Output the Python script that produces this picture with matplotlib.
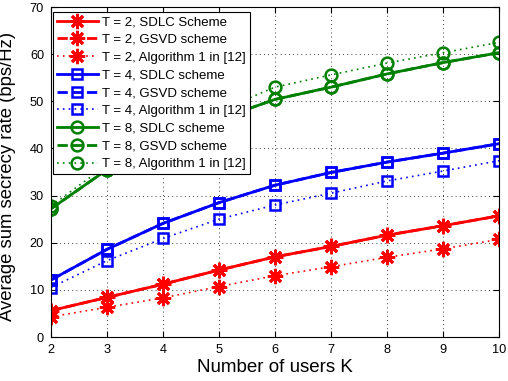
import matplotlib
matplotlib.use("Agg")
import matplotlib.pyplot as plt
import numpy as np

plt.rcParams['font.family'] = ['Liberation Sans', 'DejaVu Sans']

users_K = [2, 3, 4, 5, 6, 7, 8, 9, 10]

t2_sdlc = [5.6, 8.4, 11.2, 14.2, 17.0, 19.2, 21.6, 23.6, 25.7]
t2_gsvd = [5.6, 8.4, 11.2, 14.2, 17.0, 19.2, 21.6, 23.6, 25.7]
t2_alg1 = [4.3, 6.3, 8.3, 10.7, 13.0, 14.9, 16.9, 18.7, 20.7]

t4_sdlc = [12.1, 18.6, 24.1, 28.5, 32.2, 34.9, 37.1, 39.0, 41.0]
t4_gsvd = [12.1, 18.6, 24.1, 28.5, 32.2, 34.9, 37.1, 39.0, 41.0]
t4_alg1 = [10.5, 16.2, 20.9, 25.0, 28.0, 30.5, 33.1, 35.2, 37.4]

t8_sdlc = [27.2, 35.5, 41.3, 46.2, 50.4, 53.0, 55.8, 58.2, 60.3]
t8_gsvd = [27.2, 35.5, 41.3, 46.2, 50.4, 53.0, 55.8, 58.2, 60.3]
t8_alg1 = [27.8, 36.5, 42.5, 48.0, 53.0, 55.6, 58.1, 60.3, 62.5]

fig = plt.figure(figsize=(5.08, 3.81), dpi=100)
ax = fig.add_axes([51/508, 1 - 337/381, 448/508, 330/381])

red, blue, green = '#ff0000', '#0000ff', '#008000'
lw = 2.0
dot = (0, (1, 2.5))
asterisk = (8, 2, 0)

ax.plot(users_K, t2_sdlc, '-', color=red, lw=lw, marker=asterisk, ms=11, mew=2,
        label='T = 2, SDLC Scheme')
ax.plot(users_K, t2_gsvd, '--', color=red, lw=lw, marker=asterisk, ms=11, mew=2,
        label='T = 2, GSVD scheme')
ax.plot(users_K, t2_alg1, linestyle=dot, color=red, lw=1.2, marker=asterisk,
        ms=11, mew=2, label='T = 2, Algorithm 1 in [12]')

ax.plot(users_K, t4_sdlc, '-', color=blue, lw=lw, marker='s', ms=7, mew=1.8,
        mfc='none', label='T = 4, SDLC scheme')
ax.plot(users_K, t4_gsvd, '--', color=blue, lw=lw, marker='s', ms=7, mew=1.8,
        mfc='none', label='T = 4, GSVD scheme')
ax.plot(users_K, t4_alg1, linestyle=dot, color=blue, lw=1.2, marker='s', ms=7,
        mew=1.8, mfc='none', label='T = 4, Algorithm 1 in [12]')

ax.plot(users_K, t8_sdlc, '-', color=green, lw=lw, marker='o', ms=8.5, mew=1.8,
        mfc='none', label='T = 8, SDLC scheme')
ax.plot(users_K, t8_gsvd, '--', color=green, lw=lw, marker='o', ms=8.5, mew=1.8,
        mfc='none', label='T = 8, GSVD scheme')
ax.plot(users_K, t8_alg1, linestyle=dot, color=green, lw=1.2, marker='o',
        ms=8.5, mew=1.8, mfc='none', label='T = 8, Algorithm 1 in [12]')

ax.set_xlim(2, 10)
ax.set_ylim(0, 70)
ax.set_xticks(users_K)
ax.set_yticks(np.arange(0, 71, 10))
ax.grid(True, linestyle=(0, (1, 4)), color='black', lw=0.6)
ax.tick_params(direction='in', labelsize=9.2, top=True, right=True, length=4,
               pad=5)
for s in ax.spines.values():
    s.set_linewidth(0.8)

ax.set_xlabel('Number of users K', fontsize=13.5, labelpad=2)
ax.set_ylabel('Average sum secrecy rate (bps/Hz)', fontsize=13.3)
ax.yaxis.set_label_coords(-0.079, 0.488)

leg = ax.legend(loc='upper left', bbox_to_anchor=(2/448, 1 - 5/330),
                fontsize=9.5, frameon=True, fancybox=False, numpoints=1,
                edgecolor='black', framealpha=1, borderaxespad=0,
                handlelength=3.1, labelspacing=0.42, borderpad=0.3,
                handletextpad=0.35)
leg.get_frame().set_linewidth(0.8)

fig.savefig('out.png', dpi=100)
